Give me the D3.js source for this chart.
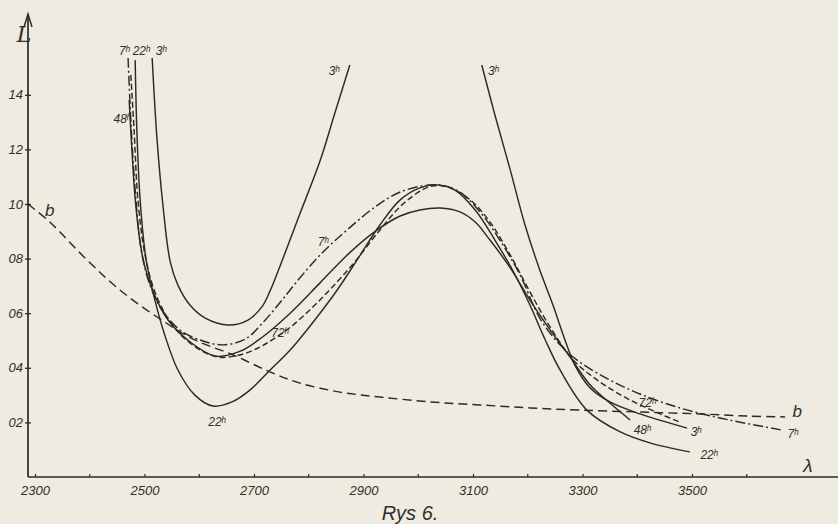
<!DOCTYPE html>
<html>
<head>
<meta charset="utf-8">
<script src="https://cdn.jsdelivr.net/npm/d3@7"></script>
<style>
  html, body { margin: 0; padding: 0; background: #efebe0; }
  svg { display: block; }
  text { font-family: "Liberation Sans", "DejaVu Sans", sans-serif; font-style: italic; fill: #2f2f2a; }
</style>
</head>
<body>
<svg id="chart" width="838" height="524"></svg>
<script>
// krzywe L(λ): [λ, L]
const seria_3h = [
  [2514, 1.535], [2523, 1.234], [2534, 0.989], [2547, 0.788], [2561, 0.703], [2583, 0.630],
  [2611, 0.582], [2653, 0.557], [2689, 0.575], [2715, 0.625], [2729, 0.680], [2748, 0.775],
  [2766, 0.870], [2784, 0.965], [2821, 1.160], [2848, 1.335], [2875, 1.509],
  null,
  [3116, 1.509], [3140, 1.326], [3168, 1.125], [3195, 0.923], [3222, 0.758], [3246, 0.630],
  [3268, 0.502], [3286, 0.410], [3314, 0.326], [3350, 0.275], [3405, 0.231], [3491, 0.179]
]
const seria_7h = [
  [2470, 1.535], [2475, 1.308], [2483, 1.051], [2494, 0.832], [2510, 0.703], [2532, 0.612],
  [2565, 0.538], [2601, 0.502], [2643, 0.484], [2684, 0.505], [2716, 0.565], [2748, 0.640],
  [2784, 0.730], [2826, 0.824], [2870, 0.905], [2921, 0.989], [2967, 1.044], [3022, 1.070],
  [3049, 1.066], [3076, 1.044], [3113, 0.971], [3149, 0.868], [3186, 0.740], [3222, 0.582],
  [3259, 0.484], [3295, 0.421], [3350, 0.355], [3405, 0.304], [3478, 0.253], [3551, 0.216],
  [3664, 0.172]
]
const seria_22h = [
  [2483, 1.527], [2486, 1.271], [2492, 1.015], [2503, 0.795], [2519, 0.648], [2537, 0.520],
  [2561, 0.392], [2592, 0.300], [2625, 0.260], [2660, 0.275], [2693, 0.319], [2726, 0.385],
  [2766, 0.465], [2811, 0.575], [2852, 0.685], [2894, 0.813], [2930, 0.923], [2967, 1.015],
  [3003, 1.059], [3034, 1.070], [3067, 1.051], [3104, 0.978], [3140, 0.868], [3177, 0.740],
  [3204, 0.630], [3232, 0.502], [3259, 0.392], [3308, 0.245], [3369, 0.165], [3423, 0.125],
  [3496, 0.092]
]
const seria_48h = [
  [2472, 1.381], [2477, 1.198], [2484, 0.996], [2497, 0.802], [2516, 0.678], [2543, 0.575],
  [2583, 0.495], [2629, 0.443], [2674, 0.460], [2715, 0.512], [2766, 0.600], [2821, 0.712],
  [2875, 0.822], [2925, 0.905], [2967, 0.956], [3003, 0.978], [3040, 0.985], [3076, 0.971],
  [3104, 0.934], [3131, 0.868], [3168, 0.766], [3204, 0.648], [3241, 0.538], [3277, 0.440],
  [3314, 0.337], [3350, 0.271], [3387, 0.209]
]
const seria_72h = [
  [2475, 1.473], [2481, 1.271], [2488, 1.015], [2501, 0.813], [2519, 0.678], [2547, 0.568],
  [2583, 0.491], [2632, 0.440], [2674, 0.447], [2711, 0.476], [2738, 0.509], [2766, 0.548],
  [2802, 0.612], [2839, 0.687], [2885, 0.790], [2930, 0.905], [2976, 1.007], [3025, 1.066],
  [3058, 1.059], [3095, 1.015], [3131, 0.934], [3168, 0.813], [3204, 0.678], [3241, 0.549],
  [3283, 0.429], [3332, 0.348], [3387, 0.282], [3442, 0.231], [3478, 0.201]
]
const seria_b = [
  [2287, 1.000], [2327, 0.934], [2395, 0.795], [2455, 0.685], [2523, 0.586], [2592, 0.502],
  [2662, 0.447], [2729, 0.385], [2784, 0.344], [2857, 0.311], [2930, 0.293], [3022, 0.275],
  [3113, 0.264], [3204, 0.253], [3295, 0.245], [3405, 0.238], [3515, 0.231], [3606, 0.223],
  [3670, 0.220]
]

const y_ticks = [0.2, 0.4, 0.6, 0.8, 1.0, 1.2, 1.4]
const y_tick_labels = ["02", "04", "06", "08", "10", "12", "14"]
const x_ticks = [2300, 2500, 2700, 2900, 3100, 3300, 3500]
const x_minor = [2400, 2600, 2800, 3000, 3200, 3400, 3600]

// opisy krzywych: [tekst, λ, L]
const opisy = [
  ["7ʰ", 2463, 1.557], ["22ʰ", 2494, 1.557], ["3ʰ", 2530, 1.557], ["48ʰ", 2459, 1.308],
  ["b", 2327, 0.971], ["22ʰ", 2632, 0.198], ["72ʰ", 2747, 0.524], ["7ʰ", 2826, 0.857],
  ["3ʰ", 2846, 1.484], ["3ʰ", 3137, 1.484], ["72ʰ", 3418, 0.267], ["48ʰ", 3409, 0.168],
  ["3ʰ", 3507, 0.161], ["22ʰ", 3531, 0.077], ["b", 3692, 0.238], ["7ʰ", 3684, 0.154]
]

const ink = "#2b2b26"
const svg = d3.select("#chart")

const x = d3.scaleLinear().domain([2300, 3500]).range([35, 692])
const y = d3.scaleLinear().domain([0, 1.4]).range([477, 94.8])

const origin_x = 28, origin_y = 477

// osie
svg.append("line")
    .attr("x1", origin_x).attr("y1", origin_y)
    .attr("x2", 838).attr("y2", origin_y)
    .attr("stroke", ink).attr("stroke-width", 1.7)
svg.append("line")
    .attr("x1", origin_x).attr("y1", origin_y)
    .attr("x2", origin_x).attr("y2", 16)
    .attr("stroke", ink).attr("stroke-width", 1.7)
svg.append("path")
    .attr("d", `M${origin_x - 4},${27} L${origin_x},${14} L${origin_x + 4},${27}`)
    .attr("fill", "none").attr("stroke", ink).attr("stroke-width", 1.5)

const y_axis = svg.append("g")
    .attr("transform", `translate(${origin_x},0)`)
    .call(d3.axisLeft(y).tickValues(y_ticks)
        .tickFormat((d, i) => y_tick_labels[i])
        .tickSize(3).tickPadding(2))
y_axis.select(".domain").remove()
y_axis.selectAll("line").attr("stroke", ink).attr("stroke-width", 1.3).attr("x2", -3).attr("x1", 3)
y_axis.selectAll("text").attr("font-size", "13px").attr("fill", ink)
    .style("font-family", "\"Liberation Sans\", sans-serif").style("font-style", "italic")

const x_axis = svg.append("g")
    .attr("transform", `translate(0,${origin_y})`)
    .call(d3.axisBottom(x).tickValues(x_ticks)
        .tickFormat(d3.format("d"))
        .tickSize(-3).tickPadding(9))
x_axis.select(".domain").remove()
x_axis.selectAll("line").attr("stroke", ink).attr("stroke-width", 1.2)
x_axis.selectAll("text").attr("font-size", "13px").attr("fill", ink)
    .style("font-family", "\"Liberation Sans\", sans-serif").style("font-style", "italic")

svg.append("g").selectAll("line").data(x_minor).join("line")
    .attr("x1", d => x(d)).attr("x2", d => x(d))
    .attr("y1", origin_y - 3).attr("y2", origin_y)
    .attr("stroke", ink).attr("stroke-width", 1.2)

// krzywe
const line = d3.line()
    .defined(d => d !== null)
    .x(d => x(d[0])).y(d => y(d[1]))
    .curve(d3.curveCatmullRom.alpha(0.5))

const krzywe = [
    { dane: seria_b, dash: "9,5" },
    { dane: seria_7h, dash: "10,3,2,3" },
    { dane: seria_72h, dash: "6,3" },
    { dane: seria_48h, dash: null },
    { dane: seria_22h, dash: null },
    { dane: seria_3h, dash: null }
]

krzywe.forEach(k => {
    svg.append("path")
        .attr("d", line(k.dane))
        .attr("fill", "none")
        .attr("stroke", ink)
        .attr("stroke-width", 1.45)
        .attr("stroke-dasharray", k.dash)
})

// opisy
svg.append("g").selectAll("text").data(opisy).join("text")
    .text(d => d[0])
    .attr("x", d => x(d[1])).attr("y", d => y(d[2]))
    .attr("text-anchor", "middle")
    .attr("dominant-baseline", "middle")
    .attr("font-size", d => d[0] === "b" ? "17px" : "12px")

svg.append("text").text("L")
    .attr("x", 24).attr("y", 42)
    .attr("text-anchor", "middle")
    .attr("font-size", "22px")
    .style("font-family", "\"DejaVu Serif\", serif")

svg.append("text").text("λ")
    .attr("x", 808).attr("y", 472)
    .attr("text-anchor", "middle")
    .attr("font-size", "19px")

svg.append("text").text("Rys 6.")
    .attr("x", 410).attr("y", 520)
    .attr("text-anchor", "middle")
    .attr("font-size", "20px")
</script>
</body>
</html>
